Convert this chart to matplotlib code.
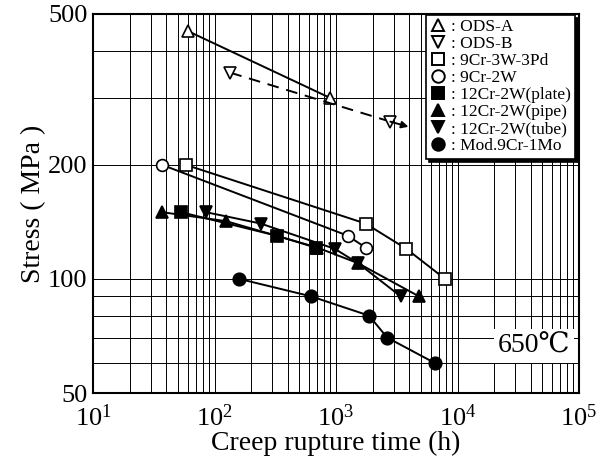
import matplotlib

matplotlib.use("Agg")
import matplotlib.pyplot as plt
from matplotlib.lines import Line2D
from matplotlib.ticker import FixedLocator, NullFormatter

plt.rcParams["font.family"] = ["Liberation Serif", "DejaVu Serif"]
plt.rcParams["mathtext.fontset"] = "custom"
plt.rcParams["mathtext.rm"] = "Liberation Serif"
plt.rcParams["mathtext.it"] = "Liberation Serif:italic"

# Creep rupture data at 650 C: (time h, stress MPa)
ods_a_t = [61, 900]
ods_a_s = [450, 300]
ods_b_t = [135, 2800]
ods_b_s = [350, 260]
ods_b_arrow = (3950, 252)  # run-out arrow of the last ODS-B test
pd_t = [58, 1750, 3800, 7900]
pd_s = [200, 140, 120, 100]
w2_t = [37, 1250, 1750]
w2_s = [200, 130, 121]
plate_t = [53, 325, 680]
plate_s = [150, 130, 121]
pipe_t = [37, 125, 700, 1520, 4800]
pipe_s = [150, 142, 121, 110, 90]
tube_t = [85, 240, 980, 1520, 3400]
tube_s = [150, 140, 120, 110, 90]
mod_t = [160, 620, 1870, 2640, 6500]
mod_s = [100, 90, 80, 70, 60]

LEGEND = [
    ("^", "white", ": ODS-A"),
    ("v", "white", ": ODS-B"),
    ("s", "white", ": 9Cr-3W-3Pd"),
    ("o", "white", ": 9Cr-2W"),
    ("s", "black", ": 12Cr-2W(plate)"),
    ("^", "black", ": 12Cr-2W(pipe)"),
    ("v", "black", ": 12Cr-2W(tube)"),
    ("o", "black", ": Mod.9Cr-1Mo"),
]

fig = plt.figure(figsize=(6.11, 4.65), dpi=100)
ax = fig.add_axes((93 / 611, 1 - 393 / 465, 486 / 611, 379 / 465))

lw = 1.4
kw = dict(color="black", lw=lw, mec="black", mew=1.2, zorder=3)
ax.plot(ods_a_t, ods_a_s, marker="^", ms=9, mfc="white", **kw)
ax.plot(ods_b_t, ods_b_s, marker="v", ms=9, mfc="white", ls=(0, (6, 4)), **kw)
ax.annotate("", xy=ods_b_arrow, xytext=(ods_b_t[-1], ods_b_s[-1]),
            arrowprops=dict(arrowstyle="-|>", color="black", lw=lw,
                            mutation_scale=10, shrinkA=0, shrinkB=0),
            zorder=3)
ax.plot(pd_t, pd_s, marker="s", ms=8.5, mfc="white", **kw)
ax.plot(w2_t, w2_s, marker="o", ms=8.5, mfc="white", **kw)
ax.plot(plate_t, plate_s, marker="s", ms=8.5, mfc="black", **kw)
ax.plot(pipe_t, pipe_s, marker="^", ms=9, mfc="black", **kw)
ax.plot(tube_t, tube_s, marker="v", ms=9, mfc="black", **kw)
ax.plot(mod_t, mod_s, marker="o", ms=9, mfc="black", **kw)

ax.set_xscale("log")
ax.set_yscale("log")
ax.set_xlim(10, 1e5)
ax.set_ylim(50, 500)

ax.set_xticks([10, 100, 1000, 10000, 100000])
ax.set_xticklabels([r"$10^{1}$", r"$10^{2}$", r"$10^{3}$", r"$10^{4}$", r"$10^{5}$"])
ax.xaxis.set_minor_locator(FixedLocator(
    [m * 10 ** e for e in range(1, 5) for m in range(2, 10)]))
ax.xaxis.set_minor_formatter(NullFormatter())
ax.set_yticks([50, 100, 200, 500])
ax.set_yticklabels(["50", "100", "200", "500"])
ax.yaxis.set_minor_locator(FixedLocator([60, 70, 80, 90, 300, 400]))
ax.yaxis.set_minor_formatter(NullFormatter())

ax.grid(True, which="both", color="black", lw=0.7)
ax.tick_params(which="both", length=0, labelsize=19)
ax.tick_params(axis="x", pad=8)
ax.tick_params(axis="y", pad=4)
for s in ax.spines.values():
    s.set_linewidth(1.5)

ax.set_xlabel("Creep rupture time (h)", fontsize=20, labelpad=0)
ax.set_ylabel("Stress ( MPa )", fontsize=20, labelpad=1)

handles = [Line2D([], [], ls="none", marker=m, ms=9, mfc=fc, mec="black",
                  mew=1.4, label=lab) for m, fc, lab in LEGEND]
leg = ax.legend(handles=handles, loc="upper right", bbox_to_anchor=(0.992, 0.998),
                borderaxespad=0, fontsize=12.5, handlelength=0.9, handletextpad=0.3,
                labelspacing=0.05, borderpad=0.25, fancybox=False, framealpha=1,
                edgecolor="black", shadow={"color": "black", "alpha": 1})
leg.get_frame().set_linewidth(1.2)
leg.set_zorder(5)

ax.text(0.982, 0.124, "650℃", transform=ax.transAxes, ha="right", va="center",
        fontsize=20, zorder=5,
        bbox=dict(facecolor="white", edgecolor="none", pad=3))

fig.savefig("out.png", dpi=100)
